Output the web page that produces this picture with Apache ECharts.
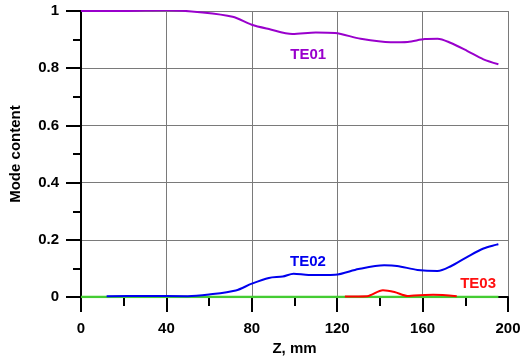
<!DOCTYPE html>
<html>
<head>
<meta charset="utf-8">
<script src="https://cdn.jsdelivr.net/npm/echarts@6/dist/echarts.min.js"></script>
<style>
  html, body { margin: 0; padding: 0; background: #fff; }
  #chart { width: 529px; height: 361px; }
</style>
</head>
<body>
<div id="chart"></div>
<script>
// TE01 - [Z, mm ; mode content]
var te01 = [
  [0, 1.0], [20, 1.0], [40, 1.003], [57, 0.995], [71, 0.98], [80, 0.952],
  [88, 0.937], [99, 0.92], [110, 0.925], [119, 0.923], [131, 0.903],
  [145, 0.891], [153, 0.892], [161, 0.902], [167, 0.903], [173, 0.889],
  [181, 0.86], [188.5, 0.831], [195.5, 0.814]
];
// TE02
var te02 = [
  [12, 0.003], [30, 0.004], [50, 0.003], [60, 0.009], [72.5, 0.023], [80, 0.047],
  [88, 0.067], [94.5, 0.072], [99.6, 0.082], [106.6, 0.077], [119, 0.078],
  [130, 0.098], [142, 0.111], [148, 0.109], [157.6, 0.095], [167, 0.091],
  [173, 0.107], [181, 0.141], [188.5, 0.17], [195.5, 0.185]
];
// TE03
var te03 = [
  [123.6, 0.002], [134, 0.003], [141.4, 0.024], [146.8, 0.018], [153, 0.004],
  [156, 0.006], [165, 0.008], [176, 0.003]
];
// zero line (green)
var te11 = [[0, 0], [195.5, 0]];

var xTicks = { min: 0, max: 200, step: 40 };
var yTicks = { min: 0, max: 1, step: 0.2 };

var chart = echarts.init(document.getElementById('chart'));

var FONT = 'Arial, "Liberation Sans", sans-serif';
var labelFont = { fontFamily: FONT, fontWeight: 'bold', fontSize: 15, color: '#000' };

// curve names written next to the curves
function tag(text, color, pos) {
  return {
    symbol: 'rect',
    symbolSize: 1,
    silent: true,
    itemStyle: { color: 'rgba(0,0,0,0)' },
    data: [{ coord: pos, value: text }],
    label: {
      show: true, position: 'inside', formatter: text,
      fontFamily: FONT, fontWeight: 'bold', fontSize: 15, color: color
    }
  };
}

chart.setOption({
  animation: false,
  grid: { left: 77, top: 11, right: 21, bottom: 60 },
  xAxis: {
    type: 'value',
    min: xTicks.min, max: xTicks.max, interval: xTicks.step,
    name: 'Z, mm', nameLocation: 'middle', nameGap: 40,
    nameTextStyle: labelFont,
    axisLine: { onZero: false, lineStyle: { color: '#000', width: 2 } },
    axisTick: { show: true, inside: false, length: 15, lineStyle: { color: '#000', width: 2 } },
    minorTick: { show: true, splitNumber: 2, length: 9, lineStyle: { color: '#000', width: 2 } },
    axisLabel: { margin: 24, fontFamily: FONT, fontWeight: 'bold', fontSize: 15, color: '#000' },
    splitLine: { show: true, lineStyle: { color: '#7a7a7a', width: 1 } }
  },
  yAxis: {
    type: 'value',
    min: yTicks.min, max: yTicks.max, interval: yTicks.step,
    name: 'Mode content', nameLocation: 'middle', nameGap: 58,
    nameTextStyle: labelFont,
    axisLine: { show: true, onZero: false, lineStyle: { color: '#000', width: 2 } },
    axisTick: { show: true, inside: false, length: 15, lineStyle: { color: '#000', width: 2 } },
    minorTick: { show: true, splitNumber: 2, length: 8, lineStyle: { color: '#000', width: 2 } },
    axisLabel: { margin: 22, fontFamily: FONT, fontWeight: 'bold', fontSize: 15, color: '#000' },
    splitLine: { show: true, lineStyle: { color: '#7a7a7a', width: 1 } }
  },
  series: [
    {
      name: 'TE11', type: 'line', data: te11, showSymbol: false,
      lineStyle: { color: '#44cc33', width: 2.5 }, z: 1
    },
    {
      name: 'TE03', type: 'line', data: te03, showSymbol: false, smooth: 0.3,
      lineStyle: { color: '#ff0000', width: 2 },
      markPoint: tag('TE03', '#ff1010', [186, 0.047])
    },
    {
      name: 'TE02', type: 'line', data: te02, showSymbol: false, smooth: 0.3,
      lineStyle: { color: '#0000ee', width: 2 },
      markPoint: tag('TE02', '#0000ee', [106.3, 0.124])
    },
    {
      name: 'TE01', type: 'line', data: te01, showSymbol: false, smooth: 0.3,
      lineStyle: { color: '#9900cc', width: 2 },
      markPoint: tag('TE01', '#9900cc', [106.4, 0.846])
    }
  ]
});
</script>
</body>
</html>
